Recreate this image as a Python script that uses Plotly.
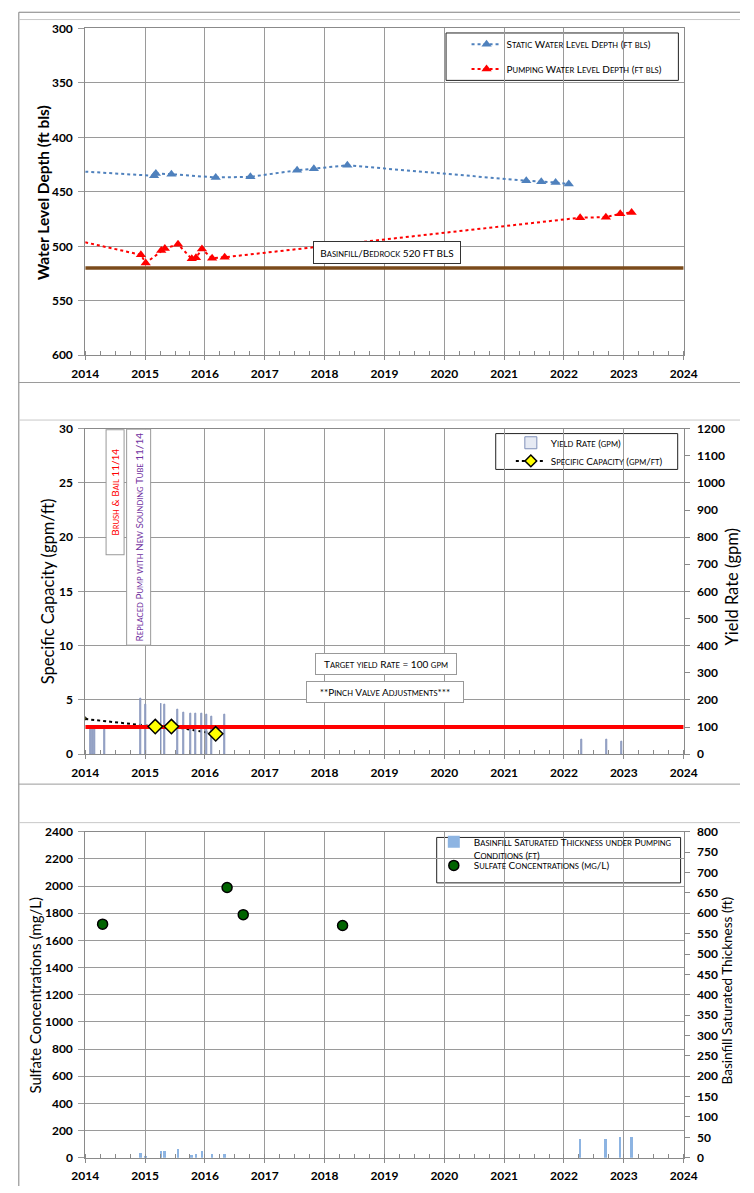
import plotly.graph_objects as go

W, H = 754, 1193


def X(px):
    return px / W


def Y(py):
    return 1 - py / H


# ---------------- data ----------------
# Chart 1: water level depth (ft bls)
static_dates = [2013.90, 2015.15, 2015.18, 2015.44, 2016.18, 2016.76, 2017.54,
                2017.82, 2018.38, 2021.37, 2021.62, 2021.86, 2022.08]
static_depth = [431.1, 435.3, 433.2, 433.8, 436.8, 436.2, 430.2,
                428.7, 425.6, 439.8, 440.7, 441.4, 442.9]

pumping_dates = [2013.90, 2014.93, 2015.01, 2015.27, 2015.33, 2015.55, 2015.78,
                 2015.85, 2015.95, 2016.12, 2016.33, 2022.27, 2022.70, 2022.94, 2023.13]
pumping_depth = [495.1, 507.8, 515.3, 503.9, 502.1, 498.1, 511.5,
                 510.5, 502.5, 511.0, 510.0, 473.7, 473.2, 470.1, 468.9]

bedrock_dates = [2014, 2024]
bedrock_depth = [520, 520]

# Chart 2: yield rate (gpm) and specific capacity (gpm/ft)
yield_dates = [2014.09, 2014.12, 2014.16, 2014.33, 2014.92, 2015.01, 2015.27, 2015.33,
               2015.54, 2015.65, 2015.76, 2015.84, 2015.94, 2016.03, 2016.12, 2016.33,
               2022.30, 2022.71, 2022.97]
yield_rate = [102, 102, 102, 92, 203, 183, 187, 181,
              166, 154, 151, 151, 149, 146, 140, 146,
              53, 53, 45]

sc_dates = [2013.90, 2015.17, 2015.44, 2016.18]
sc_values = [3.30, 2.55, 2.55, 1.88]

target_dates = [2014, 2024]
target_yield = [100, 100]

# Chart 3: sulfate (mg/L) and basinfill saturated thickness (ft)
thick_dates = [2014.93, 2015.01, 2015.27, 2015.33, 2015.55, 2015.78, 2015.85,
               2015.95, 2016.12, 2016.33, 2022.27, 2022.70, 2022.94, 2023.13]
thick_ft = [12, 5, 16, 18, 22, 8, 9, 18, 9, 10, 46, 47, 50, 51]

sulfate_dates = [2014.29, 2016.37, 2016.64, 2018.30]
sulfate_mgl = [1720, 1990, 1790, 1710]

year_ticks = list(range(2014, 2025))

# ---------------- style ----------------
GRID = '#9a9a9a'
AXIS = '#8a8a8a'
FONT = 'Lato'
BLUE = '#4F81BD'
RED = '#FF0000'
BROWN = '#7B4B1B'
PURPLE = '#7030A0'
SMALL = 7.6
BIG = 10


def sc(text, small=SMALL):
    """small caps: lowercase letters become smaller capitals"""
    out, buf = [], ''
    for ch in text:
        if ch.isalpha() and ch.islower():
            buf += ch.upper()
        else:
            if buf:
                out.append(f'<span style="font-size:{small}px">{buf}</span>')
                buf = ''
            out.append(ch)
    if buf:
        out.append(f'<span style="font-size:{small}px">{buf}</span>')
    return ''.join(out)


fig = go.Figure()

# ---- chart 1 ----
fig.add_trace(go.Scatter(x=static_dates, y=static_depth, mode='lines+markers',
                         name=sc('Static Water Level Depth (ft bls)'),
                         line=dict(color=BLUE, dash='dot', width=2),
                         marker=dict(symbol='triangle-up', size=9, color=BLUE),
                         xaxis='x', yaxis='y', legend='legend'))
fig.add_trace(go.Scatter(x=pumping_dates, y=pumping_depth, mode='lines+markers',
                         name=sc('Pumping Water Level Depth (ft bls)'),
                         line=dict(color=RED, dash='dot', width=2),
                         marker=dict(symbol='triangle-up', size=9, color=RED),
                         xaxis='x', yaxis='y', legend='legend2'))
fig.add_trace(go.Scatter(x=bedrock_dates, y=bedrock_depth, mode='lines',
                         line=dict(color=BROWN, width=3.5), showlegend=False,
                         xaxis='x', yaxis='y', hoverinfo='skip'))

# ---- chart 2 ----
fig.add_trace(go.Scatter(x=sc_dates, y=sc_values, mode='lines',
                         line=dict(color='black', dash='dot', width=2),
                         showlegend=False, xaxis='x2', yaxis='y2'))
fig.add_trace(go.Bar(x=yield_dates, y=yield_rate, width=0.016,
                     name=sc('Yield Rate (gpm)'),
                     marker=dict(color='#E6EAF3', line=dict(color='#7F8FB8', width=1)),
                     xaxis='x2', yaxis='y3', legend='legend3'))
fig.add_trace(go.Scatter(x=target_dates, y=target_yield, mode='lines',
                         line=dict(color=RED, width=4), showlegend=False,
                         xaxis='x2', yaxis='y3', hoverinfo='skip'))
fig.add_trace(go.Scatter(x=sc_dates, y=sc_values, mode='markers',
                         marker=dict(symbol='diamond', size=11, color='#FFFF00',
                                     line=dict(color='black', width=1.5)),
                         showlegend=False, xaxis='x2', yaxis='y4'))
fig.add_trace(go.Scatter(x=[None], y=[None], mode='lines+markers',
                         name=sc('Specific Capacity (gpm/ft)'),
                         line=dict(color='black', dash='dot', width=2),
                         marker=dict(symbol='diamond', size=9, color='#FFFF00',
                                     line=dict(color='black', width=1.5)),
                         xaxis='x2', yaxis='y4', legend='legend4'))

# ---- chart 3 ----
fig.add_trace(go.Bar(x=thick_dates, y=thick_ft, width=0.04,
                     name=sc('Basinfill Saturated Thickness under Pumping') + '<br>' + sc('Conditions (ft)'),
                     marker=dict(color='#8DB4E2', line=dict(width=0)),
                     xaxis='x3', yaxis='y6', legend='legend5'))
fig.add_trace(go.Scatter(x=sulfate_dates, y=sulfate_mgl, mode='markers',
                         name=sc('Sulfate Concentrations (mg/L)'),
                         marker=dict(symbol='circle', size=10, color='#006400',
                                     line=dict(color='black', width=1.5)),
                         xaxis='x3', yaxis='y5', legend='legend6'))

# ---------------- axes ----------------
TICKFONT = dict(family=FONT, size=12, color='black', weight='bold')


def xax(anchor, standoff):
    return dict(domain=[X(74), X(695.5)], anchor=anchor, range=[2014, 2024],
                tickmode='array', tickvals=year_ticks, tickformat='d',
                showgrid=True, gridcolor=GRID, gridwidth=1, zeroline=False,
                showline=True, linecolor=AXIS, linewidth=1, mirror=True,
                ticks='outside', ticklen=4, tickcolor=AXIS, tickfont=TICKFONT,
                ticklabelstandoff=standoff,
                minor=dict(dtick=0.25, tick0=2014, ticks='inside', ticklen=4,
                           tickcolor=AXIS, showgrid=False))


def yleft(anchor, top, bottom, rng, dtick):
    return dict(domain=[Y(bottom), Y(top)], anchor=anchor, range=rng, dtick=dtick,
                tick0=0, showgrid=True, gridcolor=GRID, gridwidth=1, zeroline=False,
                showline=True, linecolor=AXIS, linewidth=1, mirror=True,
                ticks='outside', ticklen=6, tickcolor=GRID, tickfont=TICKFONT,
                ticklabelstandoff=3)


def yright(over, rng, dtick):
    return dict(overlaying=over, side='right', anchor='x2' if over == 'y2' else 'x3',
                range=rng, dtick=dtick, showgrid=False, zeroline=False,
                ticks='outside', ticklen=5, tickcolor=AXIS, tickfont=TICKFONT,
                ticklabelstandoff=5, showline=False)


def leg(px, py, valign='middle'):
    return dict(x=X(px), y=Y(py), xanchor='left', yanchor='middle',
                bgcolor='rgba(0,0,0,0)', borderwidth=0,
                font=dict(family=FONT, size=BIG, color='black'),
                itemwidth=30, valign=valign)


fig.update_layout(
    width=W, height=H, margin=dict(l=0, r=0, t=0, b=0),
    paper_bgcolor='white', plot_bgcolor='white',
    font=dict(family=FONT, color='black'),
    showlegend=True, bargap=0,
    xaxis=xax('y', 3),
    yaxis=yleft('x', 20.7, 351.7, [600, 300], 50),
    xaxis2=xax('y2', 3),
    yaxis2=yleft('x2', 426, 755.7, [0, 30], 5),
    yaxis3=yright('y2', [0, 1200], 100),
    yaxis4=dict(overlaying='y2', anchor='x2', range=[0, 30], visible=False),
    xaxis3=xax('y5', 3),
    yaxis5=yleft('x3', 834.3, 1164.3, [0, 2400], 200),
    yaxis6=yright('y5', [0, 800], 50),
    legend=leg(470, 36.7),
    legend2=leg(470, 61.7),
    legend3=leg(516, 440.3),
    legend4=leg(516, 458.7),
    legend5=leg(436, 851, 'top'),
    legend6=leg(436, 868.3),
)

# ---------------- frame and legend boxes ----------------
shapes = []


def hline(py, color, x0=5, x1=754):
    shapes.append(dict(type='line', xref='paper', yref='paper', x0=X(x0), x1=X(x1),
                       y0=Y(py), y1=Y(py), line=dict(color=color, width=1)))


shapes.append(dict(type='line', xref='paper', yref='paper', x0=X(5), x1=X(5),
                   y0=Y(4.3), y1=Y(1193), line=dict(color='#808080', width=1)))
hline(4.3, '#808080')
hline(11.7, '#c8c8c8')
hline(379.3, '#9a9a9a')
hline(417.3, '#c8c8c8')
hline(786, '#9a9a9a')
hline(825, '#c8c8c8')


def box(x0, y0, x1, y1):
    shapes.append(dict(type='rect', xref='paper', yref='paper', x0=X(x0), x1=X(x1),
                       y0=Y(y1), y1=Y(y0), line=dict(color='#222', width=1),
                       fillcolor='white', layer='below'))


box(448.7, 25.3, 690, 73.3)
box(500.3, 431, 689.3, 467.3)
box(439, 840, 692.3, 886)
fig.update_layout(shapes=shapes)

# ---------------- annotations ----------------
ann = []


def title(text, px, py, size, weight='normal'):
    ann.append(dict(text=text, x=X(px), y=Y(py), xref='paper', yref='paper',
                    showarrow=False, textangle=-90, xanchor='center', yanchor='middle',
                    font=dict(family=FONT, size=size, color='black', weight=weight)))


title('Water Level Depth (ft bls)', 29.5, 187, 15.5, 'bold')
title('Specific Capacity (gpm/ft)', 35, 591, 16.5)
title('Yield Rate (gpm)', 745.5, 586, 16.5)
title('Sulfate Concentrations (mg/L)', 22, 1000, 15)
title('Basinfill Saturated Thickness (ft)', 741.5, 995, 13.5)


def label(text, px, py, w, h, color='black', angle=0, border='#777'):
    ann.append(dict(text=text, x=X(px), y=Y(py), xref='paper', yref='paper',
                    showarrow=False, textangle=angle, xanchor='center', yanchor='middle',
                    width=w, height=h, borderpad=0, bgcolor='white',
                    bordercolor=border, borderwidth=1,
                    font=dict(family=FONT, size=BIG, color=color)))


label(sc('Basinfill/Bedrock') + ' 520 FT BLS', 387, 248, 146, 21, border='#333')
label(sc('Brush & Bail 11/14'), 104.8, 490.5, 124, 17, color=RED, angle=-90, border='#999')
label(sc('Replaced Pump with New Sounding Tube 11/14'), 129.2, 536, 215, 23,
      color=PURPLE, angle=-90, border='#999')
label(sc('Target yield Rate = 100 gpm'), 386.7, 664.2, 140, 20, border='#999')
label(sc('**Pinch Valve Adjustments***'), 385.3, 692.8, 156, 20, border='#999')

fig.update_layout(annotations=ann)

fig.write_html("out.html", config={'displayModeBar': False},
               post_script="document.body.style.margin='0';")
